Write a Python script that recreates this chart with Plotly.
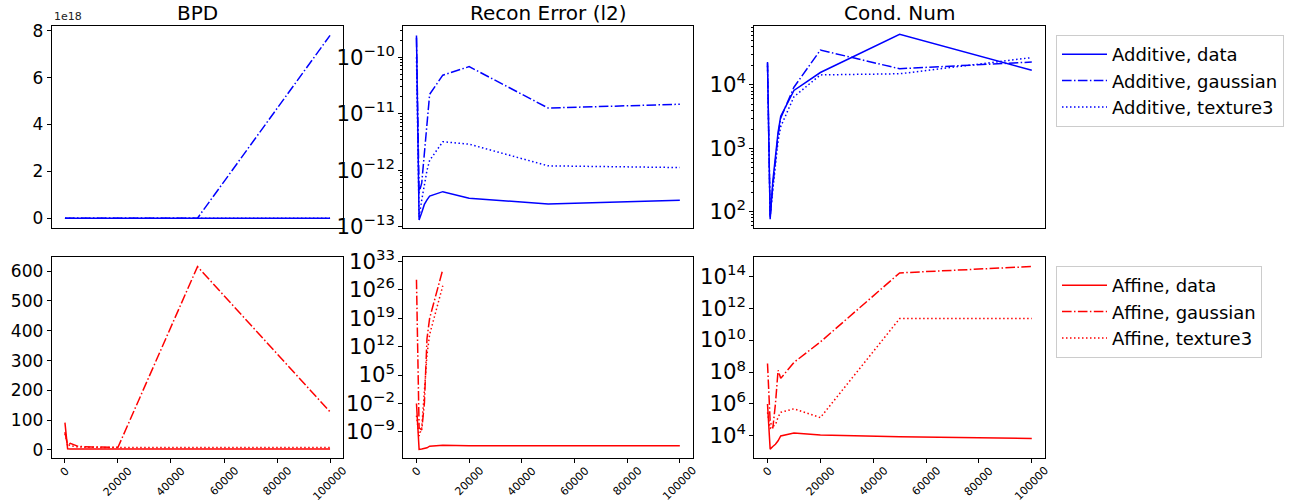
import plotly.graph_objects as go

steps = [0, 1000, 2000, 3000, 4000, 5000, 10000, 20000, 50000, 100000]

# Additive (top row)
add_bpd_data = [6, 4.5, 4.2, 4.0, 3.9, 3.8, 3.7, 3.6, 3.5, 3.5]
add_bpd_gauss = [8, 5, 4.5, 4.3, 4.2, 4.1, 4.0, 4.0, 4.0, 7.8e18]
add_bpd_tex = [7, 5, 4.6, 4.4, 4.3, 4.2, 4.1, 4.0, 4.0, 4.0]

add_rec_data = [2.4e-10, 1.33e-13, 1.8e-13, 2.5e-13, 3.0e-13, 3.5e-13, 4.2e-13, 3.2e-13, 2.55e-13, 2.95e-13]
add_rec_gauss = [2.2e-10, 4e-13, 6e-13, 2e-12, 8e-12, 2.2e-11, 4.8e-11, 6.8e-11, 1.26e-11, 1.47e-11]
add_rec_tex = [1e-10, 1.5e-13, 3e-13, 6e-13, 1.0e-12, 1.5e-12, 3.2e-12, 2.9e-12, 1.2e-12, 1.12e-12]

add_cond_data = [2.3e4, 76, 300, 800, 1800, 3.2e3, 8.2e3, 1.57e4, 6.3e4, 1.7e4]
add_cond_gauss = [2.2e4, 80, 250, 700, 1600, 3.0e3, 9.2e3, 3.55e4, 1.8e4, 2.3e4]
add_cond_tex = [2.0e4, 85, 220, 600, 1300, 2.2e3, 6.5e3, 1.44e4, 1.5e4, 2.7e4]

# Affine (bottom row)
aff_bpd_data = [92, 4, 3.5, 3.4, 3.3, 3.3, 3.2, 3.2, 3.1, 3.1]
aff_bpd_gauss = [60, 15, 22, 18, 14, 12, 10, 9, 615, 128]
aff_bpd_tex = [55, 20, 14, 12, 11, 10, 9, 8, 8, 8]

aff_rec_data = [1e-2, 5e-14, 6e-14, 8e-14, 1.2e-13, 3e-13, 5e-13, 4e-13, 3.5e-13, 4e-13]
aff_rec_gauss = [3e28, 1e-8, 3e-9, 1e-2, 1e14, 1e19, 1e31, None, None, None]
aff_rec_tex = [1e-5, 1e-10, 1e-8, 1e2, 1e10, 1e15, 1e27, None, None, None]

aff_cond_data = [1e6, 1.5e3, 2.2e3, 3e3, 5e3, 1e4, 1.5e4, 1.15e4, 9e3, 7e3]
aff_cond_gauss = [3.4e8, 8e4, 3e4, 1e6, 1.3e8, 4e7, 4e8, 7.6e9, 1.6e14, 4e14]
aff_cond_tex = [3e5, 3e4, 4e4, 5e4, 1.5e5, 3e5, 5e5, 1.4e5, 2.2e11, 2.2e11]

titles = ["BPD", "Recon Error (l2)", "Cond. Num"]
xtick_vals = [0, 20000, 40000, 60000, 80000, 100000]
xtick_text = ["0", "20000", "40000", "60000", "80000", "100000"]
bpd_add_ticks = [0, 2e18, 4e18, 6e18, 8e18]
bpd_add_ticktext = ["0", "2", "4", "6", "8"]

FONT = "DejaVu Sans"
BLUE = "#0000ff"
RED = "#ff0000"
DASHES = {"data": "solid", "gaussian": "9.6px,2.4px,1.5px,2.4px", "texture3": "1.5px,2.5px"}

W, H = 1292, 503
cols_px = [(51.7, 343.3), (403.3, 693.0), (754.3, 1045.0)]
rows_px = [(26.0, 227.5), (256.5, 458.3)]

fig = go.Figure()

series = [
    (0, 0, "Additive", BLUE, "legend", [add_bpd_data, add_bpd_gauss, add_bpd_tex]),
    (0, 1, "Additive", BLUE, "legend", [add_rec_data, add_rec_gauss, add_rec_tex]),
    (0, 2, "Additive", BLUE, "legend", [add_cond_data, add_cond_gauss, add_cond_tex]),
    (1, 0, "Affine", RED, "legend2", [aff_bpd_data, aff_bpd_gauss, aff_bpd_tex]),
    (1, 1, "Affine", RED, "legend2", [aff_rec_data, aff_rec_gauss, aff_rec_tex]),
    (1, 2, "Affine", RED, "legend2", [aff_cond_data, aff_cond_gauss, aff_cond_tex]),
]
kinds = ["data", "gaussian", "texture3"]

for r, c, prefix, color, leg, lists in series:
    idx = r * 3 + c + 1
    sfx = "" if idx == 1 else str(idx)
    for k, ys in zip(kinds, lists):
        fig.add_trace(go.Scatter(
            x=steps, y=ys, mode="lines",
            name=f"{prefix}, {k}",
            line=dict(color=color, width=1.5, dash=DASHES[k]),
            xaxis="x" + sfx, yaxis="y" + sfx,
            legend=leg, showlegend=(c == 2),
            connectgaps=False,
        ))

yranges = {
    1: dict(type="linear", range=[-0.40e18, 8.2e18], tickvals=bpd_add_ticks,
            ticktext=bpd_add_ticktext),
    2: dict(type="log", range=[-13.01, -9.45], dtick=1, exponentformat="power",
            minor=dict(ticks="outside", ticklen=2, dtick="D1", tickcolor="black")),
    3: dict(type="log", range=[1.75, 4.93], dtick=1, exponentformat="power",
            minor=dict(ticks="outside", ticklen=2, dtick="D1", tickcolor="black")),
    4: dict(type="linear", range=[-27.9, 649], dtick=100, tick0=0),
    5: dict(type="log", range=[-15.5, 34.2], dtick=7, tick0=-2, exponentformat="power"),
    6: dict(type="log", range=[2.6, 15.23], dtick=2, tick0=0, exponentformat="power"),
}

axis_common = dict(showline=True, mirror=True, linecolor="black", linewidth=1,
                   ticklen=4, tickcolor="black", showgrid=False, zeroline=False,
                   automargin=False)

layout = dict(
    width=W, height=H, margin=dict(l=0, r=0, t=0, b=0, autoexpand=False),
    paper_bgcolor="white", plot_bgcolor="white",
    font=dict(family=FONT, color="black", size=16),
    annotations=[],
)

for r in range(2):
    for c in range(3):
        idx = r * 3 + c + 1
        sfx = "" if idx == 1 else str(idx)
        x0, x1 = cols_px[c]
        yt, yb = rows_px[r]
        xa = dict(axis_common, domain=[x0 / W, x1 / W], anchor="y" + sfx,
                  range=[-5000, 105000], tickvals=xtick_vals,
                  ticks=("outside" if r == 1 else ""), showticklabels=False)
        ya = dict(axis_common, domain=[1 - yb / H, 1 - yt / H], anchor="x" + sfx,
                  ticks="outside", tickfont=dict(family=FONT, size=17))
        ya.update(yranges[idx])
        layout["xaxis" + sfx] = xa
        layout["yaxis" + sfx] = ya
        if r == 1:
            for v, t in zip(xtick_vals, xtick_text):
                layout["annotations"].append(dict(
                    text=t, x=v, xref="x" + sfx, y=1 - 463 / H, yref="paper",
                    xanchor="center", yanchor="top", textangle=-45, showarrow=False,
                    font=dict(family=FONT, size=11, color="black"),
                    borderpad=0))

for c, t in enumerate(titles):
    x0, x1 = cols_px[c]
    layout["annotations"].append(dict(
        text=t, x=(x0 + x1) / 2 / W, y=1 - 13 / H, xref="paper", yref="paper",
        xanchor="center", yanchor="middle", showarrow=False,
        font=dict(family=FONT, size=20, color="black")))

layout["annotations"].append(dict(
    text="1e18", x=52 / W, y=1 - 25 / H, xref="paper", yref="paper",
    xanchor="left", yanchor="bottom", showarrow=False,
    font=dict(family=FONT, size=11, color="#222222")))

leg_common = dict(xanchor="left", yanchor="top", bordercolor="#cccccc", borderwidth=1,
                  bgcolor="white", font=dict(family=FONT, size=18, color="black"),
                  tracegroupgap=0, itemwidth=45)
layout["legend"] = dict(leg_common, x=1056 / W, y=1 - 35 / H)
layout["legend2"] = dict(leg_common, x=1056 / W, y=1 - 266 / H)

fig.update_layout(**layout)
fig.write_html("out.html")
